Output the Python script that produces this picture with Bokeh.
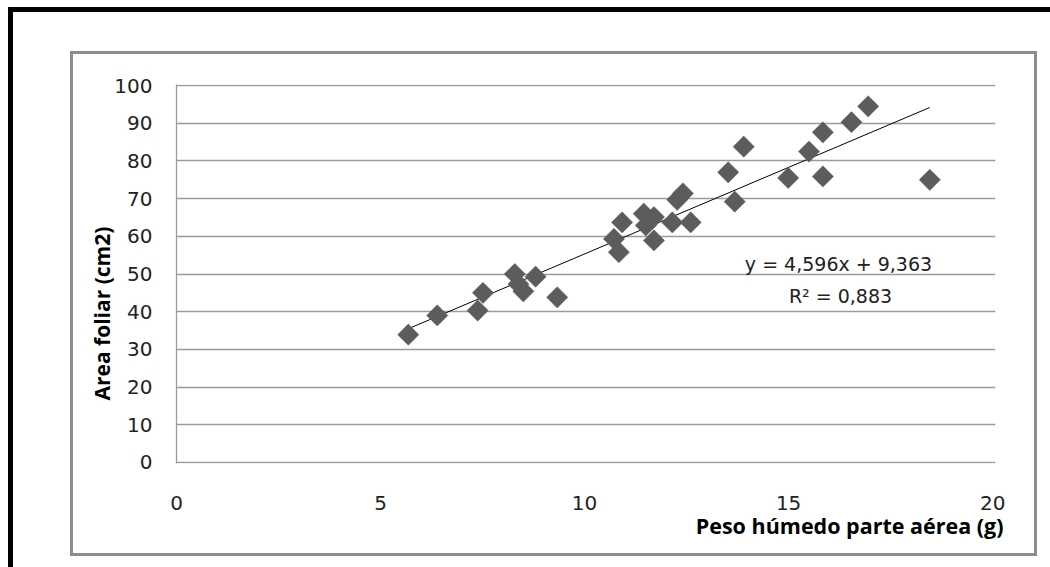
import numpy as np
from bokeh.plotting import figure
from bokeh.layouts import column
from bokeh.models import Range1d, FixedTicker, Label, Title
from bokeh.embed import file_html
from bokeh.resources import INLINE

# ---- data ----
peso = [5.68, 6.39, 7.51, 7.38, 8.29, 8.50, 8.38, 8.80, 9.33,
        10.72, 10.84, 10.92, 11.45, 11.70, 11.50, 12.15, 12.60, 11.70,
        12.41, 12.27, 13.52, 13.68, 13.90, 14.99, 15.50, 15.84, 15.84,
        16.54, 16.95, 18.46]
area = [33.9, 39.0, 45.0, 40.3, 50.0, 45.4, 47.3, 49.3, 43.8,
        59.3, 55.8, 63.7, 66.0, 65.1, 62.9, 63.7, 63.7, 58.9,
        71.4, 69.7, 77.0, 69.2, 83.8, 75.5, 82.5, 75.9, 87.6,
        90.3, 94.5, 75.0]
slope = 4.596
intercept = 9.363
r2_text = "R\u00b2 = 0,883"
eq_text = "y = 4,596x + 9,363"
x_ticks = [0, 5, 10, 15, 20]
y_ticks = [0, 10, 20, 30, 40, 50, 60, 70, 80, 90, 100]
x_title = "Peso h\u00famedo parte a\u00e9rea (g)"
y_title = "Area foliar (cm2)"

BW = 3  # gray frame border width
p = figure(width=961 + 2 * BW, height=499 + 2 * BW, output_backend="svg",
           toolbar_location=None,
           x_range=Range1d(0, 20.07), y_range=Range1d(-0.3, 100.3),
           min_border_left=103, min_border_right=45,
           min_border_top=30, min_border_bottom=96)
p.outline_line_color = None
p.background_fill_color = "white"
p.border_fill_color = "white"

# grid
p.xgrid.grid_line_color = None
p.ygrid.grid_line_color = "#9c9c9c"
p.ygrid.grid_line_width = 1.3
p.ygrid.ticker = FixedTicker(ticks=y_ticks)

tick_font = "DejaVu Sans"
for ax in (p.xaxis[0], p.yaxis[0]):
    ax.major_tick_out = 0
    ax.major_tick_in = 0
    ax.minor_tick_out = 0
    ax.minor_tick_in = 0
    ax.major_label_text_font = tick_font
    ax.major_label_text_font_size = "20px"
    ax.major_label_text_color = "#222222"
p.xaxis.ticker = FixedTicker(ticks=x_ticks)
p.yaxis.ticker = FixedTicker(ticks=y_ticks)
p.xaxis.axis_line_color = None
p.xaxis.major_label_standoff = 32
p.yaxis.axis_line_color = "#9c9c9c"
p.yaxis.axis_line_width = 1.3
p.yaxis.major_label_standoff = 24

# trend line over data range
xl = np.array([min(peso), max(peso)])
p.line(xl, slope * xl + intercept, line_color="black", line_width=1)

# points
p.scatter(peso, area, marker="square", size=15, angle=np.pi / 4,
          fill_color="#5c5c5c", line_color="#5c5c5c", line_width=0.5)

# equation labels
p.add_layout(Label(x=662, y=200, x_units="screen", y_units="screen", text=eq_text,
                   text_align="center", text_baseline="middle",
                   text_font=tick_font, text_font_size="19px", text_color="#222222"))
p.add_layout(Label(x=664, y=168, x_units="screen", y_units="screen", text=r2_text,
                   text_align="center", text_baseline="middle",
                   text_font=tick_font, text_font_size="19px", text_color="#222222"))

# axis titles
title_font = "Open Sans"
p.add_layout(Title(text=x_title, align="right", offset=-8, standoff=-7,
                   text_font=title_font, text_font_style="bold", text_font_size="21.5px",
                   text_color="black"), "below")
p.add_layout(Title(text=y_title, align="left", offset=63, standoff=-8,
                   text_font=title_font, text_font_style="bold", text_font_size="21px",
                   text_color="black"), "left")

# chart frame (gray) and page borders (black)
p.margin = (42 - BW, 13, 11, 60 - BW)
p.styles = {"border": f"{BW}px solid #8c8c8c"}
root = column(p, margin=(7, 0, 0, 8),
              styles={"border-top": "5px solid black", "border-left": "5px solid black"})

open("out.html", "w").write(file_html(root, INLINE))
